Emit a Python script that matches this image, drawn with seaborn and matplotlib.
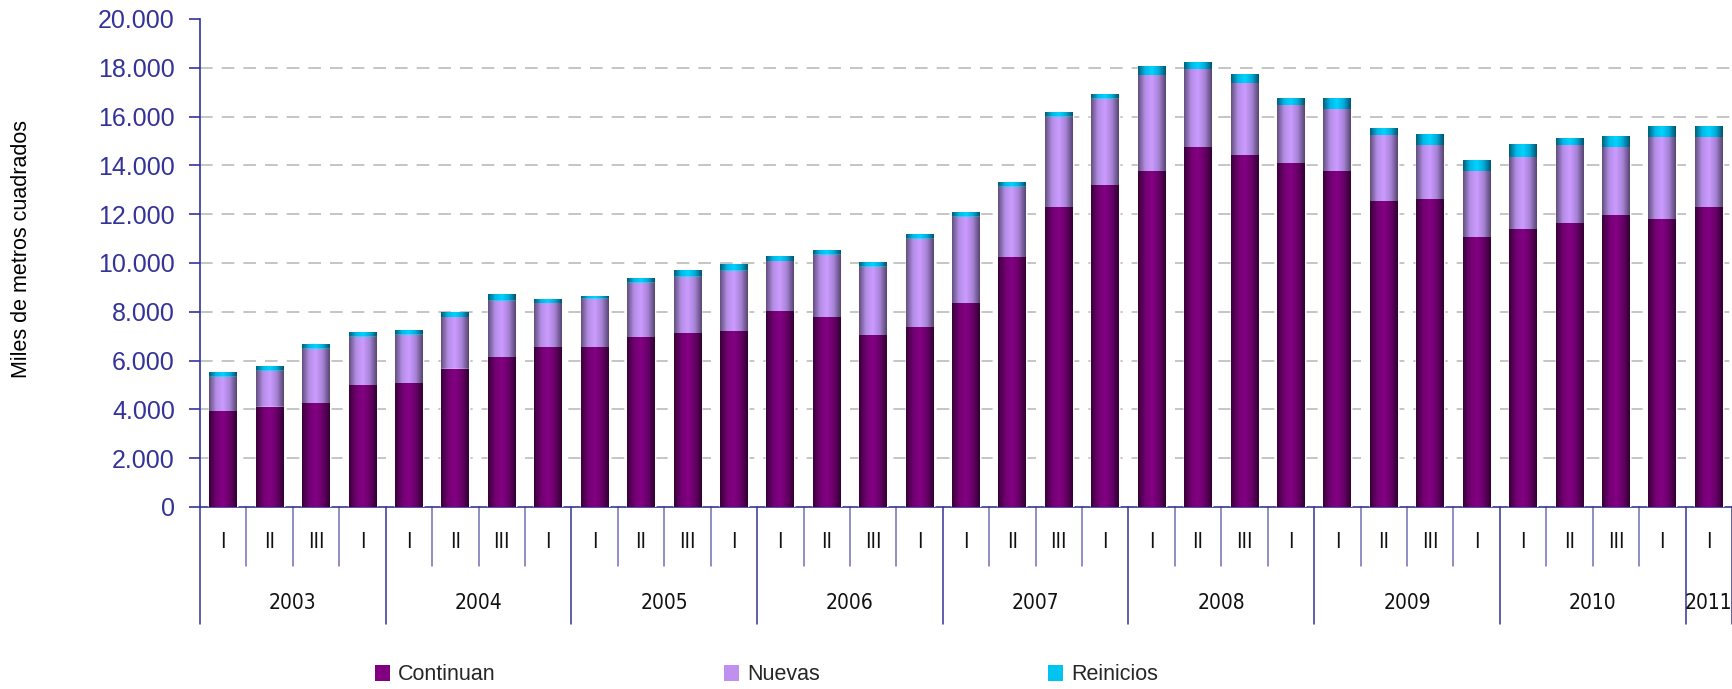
import numpy as np
import pandas as pd
import matplotlib
matplotlib.use("Agg")
import matplotlib.pyplot as plt
import seaborn as sns
from matplotlib.colors import LinearSegmentedColormap
from matplotlib.patches import Patch
from matplotlib.ticker import FuncFormatter
from matplotlib import font_manager as fm
import matplotlib.transforms as mtransforms

# ---------------- data ----------------
years = ["2003", "2004", "2005", "2006", "2007", "2008", "2009", "2010", "2011"]
quarters_per_year = [4, 4, 4, 4, 4, 4, 4, 4, 1]
quarter_labels = (["I", "II", "III", "I"] * 8) + ["I"]

continuan = [3900, 4080, 4230, 4970, 5050, 5640, 6120, 6530, 6530, 6940, 7100,
             7190, 8010, 7760, 7020, 7350, 8330, 10220, 12270, 13170, 13740,
             14730, 14400, 14070, 13740, 12510, 12600, 11040, 11370, 11610,
             11940, 11780, 12270]
totales_nc = [5310, 5560, 6460, 6950, 7040, 7760, 8430, 8330, 8510, 9170, 9410,
              9660, 10050, 10310, 9820, 10970, 11870, 13100, 15970, 16710, 17680,
              17920, 17350, 16450, 16280, 15220, 14810, 13740, 14320, 14810,
              14730, 15140, 15140]
totales = [5510, 5750, 6650, 7140, 7230, 7960, 8700, 8520, 8620, 9360, 9690,
           9930, 10260, 10510, 10010, 11160, 12060, 13290, 16160, 16900, 18050,
           18210, 17720, 16730, 16730, 15510, 15260, 14190, 14850, 15100, 15180,
           15590, 15590]
nuevas = [b - a for a, b in zip(continuan, totales_nc)]
reinicios = [b - a for a, b in zip(totales_nc, totales)]

series_names = ["Continuan", "Nuevas", "Reinicios"]
base_colors = ["#800080", "#C090F0", "#00C4F0"]

# --------------- figure ----------------
sns.set_theme(style="white")
plt.rcParams["font.family"] = ["Liberation Sans", "DejaVu Sans"]

# look for a condensed face for the category labels
narrow_props = None
for fam in ["Liberation Sans Narrow", "Arial Narrow", "DejaVu Sans Condensed"]:
    try:
        f = fm.findfont(fm.FontProperties(family=fam), fallback_to_default=False)
        narrow_props = dict(family=fam, fontsize=16)
        break
    except Exception:
        pass
if narrow_props is None:
    try:
        f = fm.findfont(fm.FontProperties(family="DejaVu Sans", stretch="condensed"))
        if "ondensed" in f:
            narrow_props = dict(family="DejaVu Sans", fontstretch="condensed", fontsize=15)
    except Exception:
        pass
if narrow_props is None:
    narrow_props = dict(family="Liberation Sans", fontsize=14)

W, H = 1733, 689
fig = plt.figure(figsize=(W / 100, H / 100), dpi=100)
ax = fig.add_axes([200 / W, 1 - 507 / H, 1532 / W, 488 / H])

n = len(continuan)
cats = [f"c{i}" for i in range(n)]
df = pd.DataFrame({
    "cat": cats,
    "c": continuan,
    "cn": np.array(continuan) + np.array(nuevas),
    "cnr": np.array(continuan) + np.array(nuevas) + np.array(reinicios),
})

layers = [("cnr", base_colors[2]), ("cn", base_colors[1]), ("c", base_colors[0])]
cmaps = {
    "cnr": LinearSegmentedColormap.from_list("r", ["#005f78", "#00b8e6", "#00d4ff", "#00acd8", "#005570"]),
    "cn": LinearSegmentedColormap.from_list("n", ["#63507e", "#b48ee6", "#cc9bff", "#a683d6", "#584672"]),
    "c": LinearSegmentedColormap.from_list("c", ["#380038", "#700070", "#840084", "#680068", "#330033"]),
}
grad = np.linspace(0, 1, 64).reshape(1, -1)

for k, (col, color) in enumerate(layers):
    before = len(ax.patches)
    sns.barplot(data=df, x="cat", y=col, color=color, width=0.6, ax=ax,
                saturation=1, zorder=3 + k, order=cats)
    for p in ax.patches[before:]:
        x0, y0 = p.get_x(), p.get_y()
        w, h = p.get_width(), p.get_height()
        ax.imshow(grad, extent=(x0, x0 + w, y0, y0 + h), aspect="auto",
                  cmap=cmaps[col], zorder=3.5 + k, interpolation="bilinear")

ax.set_xlim(-0.5, n - 0.5)
ax.set_ylim(0, 20000)
ax.set_aspect("auto")

# grid
for v in range(2000, 20000, 2000):
    ax.axhline(v, color="#C0C0C0", lw=1.3, dashes=(7, 5), zorder=1)

# spines
axis_col = "#333399"
for s in ["top", "right"]:
    ax.spines[s].set_visible(False)
ax.spines["left"].set_color(axis_col)
ax.spines["bottom"].set_color(axis_col)
ax.spines["left"].set_linewidth(1.2)
ax.spines["bottom"].set_linewidth(1.2)

ax.set_yticks(range(0, 20001, 2000))
ax.yaxis.set_major_formatter(FuncFormatter(lambda v, p: f"{int(v):,}".replace(",", ".")))
ax.tick_params(axis="y", colors=axis_col, labelsize=18, length=8, width=1.2,
               direction="out", pad=10, left=True)
ax.tick_params(axis="y", labelcolor=axis_col)
ax.set_xticks([])
ax.set_xlabel("")
ax.set_ylabel("")

# category axis (quarters and years)
trans = mtransforms.blended_transform_factory(ax.transData, ax.transAxes)
year_bounds = np.concatenate([[0], np.cumsum(quarters_per_year)])
yb = set(int(v) for v in year_bounds)
for i in range(n + 1):
    is_year = i in yb
    y_end = -0.240 if is_year else -0.121
    ax.plot([i - 0.5, i - 0.5], [0, y_end], transform=trans,
            color=axis_col if is_year else "#7070B8",
            lw=1.1, clip_on=False, zorder=1)
for i, q in enumerate(quarter_labels):
    ax.text(i, -0.072, q, transform=trans, ha="center", va="center",
            color="#111111", **narrow_props)
for yi, y in enumerate(years):
    center = (year_bounds[yi] + year_bounds[yi + 1] - 1) / 2
    ax.text(center, -0.197, y, transform=trans, ha="center", va="center",
            color="#111111", **narrow_props)

# y label
fig.text(22 / W, 1 - 249 / H, "Miles de metros cuadrados", rotation=90,
         ha="center", va="center", fontsize=15.5, color="black")

# legend
handles = [Patch(facecolor=c, edgecolor="none") for c in base_colors]
fig.legend(handles, series_names, loc="center left",
           bbox_to_anchor=(375 / W, 1 - 675 / H), ncol=3, frameon=False,
           fontsize=15.5, handlelength=0.7, handleheight=0.7,
           handletextpad=0.37, columnspacing=10.6, borderpad=0,
           borderaxespad=0)

fig.savefig("out.png", dpi=100)
